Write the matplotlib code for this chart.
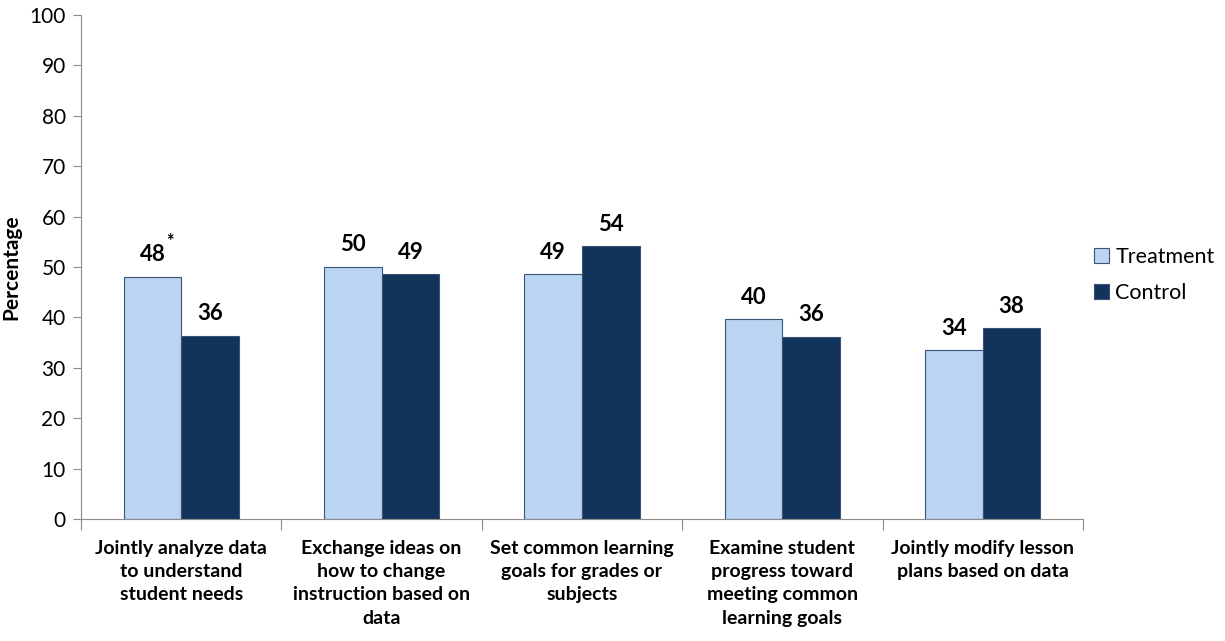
import matplotlib
matplotlib.use("Agg")
import matplotlib.pyplot as plt
import numpy as np

plt.rcParams["font.family"] = ["Lato", "DejaVu Sans"]

categories = [
    "Jointly analyze data\nto understand\nstudent needs",
    "Exchange ideas on\nhow to change\ninstruction based on\ndata",
    "Set common learning\ngoals for grades or\nsubjects",
    "Examine student\nprogress toward\nmeeting common\nlearning goals",
    "Jointly modify lesson\nplans based on data",
]
treatment = [48.1, 50.1, 48.6, 39.7, 33.5]
control = [36.4, 48.6, 54.2, 36.2, 37.9]
treatment_labels = ["48", "50", "49", "40", "34"]
control_labels = ["36", "49", "54", "36", "38"]
significant = [True, False, False, False, False]

light = "#BAD4F1"
dark = "#12335A"
edge = "#3A5478"
axis_gray = "#8C8C8C"

fig = plt.figure(figsize=(12.25, 6.41), dpi=100)
ax = fig.add_axes([0.0661, 0.1903, 0.8180, 0.7863])

x = np.arange(len(categories))
w = 0.287
b1 = ax.bar(x - w / 2, treatment, w, color=light, edgecolor=edge, linewidth=0.8, label="Treatment")
b2 = ax.bar(x + w / 2, control, w, color=dark, edgecolor=edge, linewidth=0.8, label="Control")

for rect, lbl, sig in zip(b1, treatment_labels, significant):
    cx = rect.get_x() + rect.get_width() / 2
    ax.annotate(lbl, (cx, rect.get_height()), xytext=(0, 8), textcoords="offset points",
                ha="center", va="bottom", fontsize=16, fontweight="bold")
    if sig:
        ax.annotate("*", (cx, rect.get_height()), xytext=(10, 19), textcoords="offset points",
                    ha="left", va="bottom", fontsize=13, fontweight="bold")
for rect, lbl in zip(b2, control_labels):
    cx = rect.get_x() + rect.get_width() / 2
    ax.annotate(lbl, (cx, rect.get_height()), xytext=(0, 8), textcoords="offset points",
                ha="center", va="bottom", fontsize=16, fontweight="bold")

ax.set_xlim(-0.5, len(categories) - 0.5)
ax.set_ylim(0, 100)
ax.set_yticks(range(0, 101, 10))
ax.tick_params(axis="y", labelsize=15, length=6, color=axis_gray, direction="out", pad=5)

# ticks at category boundaries, labels centred under each group
ax.set_xticks(np.arange(-0.5, len(categories), 1.0))
ax.set_xticklabels([])
ax.tick_params(axis="x", length=8, color=axis_gray, direction="out")
for xi, cat in zip(x, categories):
    ax.annotate(cat, (xi, 0), xycoords=ax.get_xaxis_transform(), xytext=(0, -15),
                textcoords="offset points", ha="center", va="top", fontsize=14,
                fontweight="bold", linespacing=1.45, annotation_clip=False)

for s in ["top", "right"]:
    ax.spines[s].set_visible(False)
for s in ["left", "bottom"]:
    ax.spines[s].set_color(axis_gray)

ax.set_ylabel("Percentage", fontsize=15, fontweight="bold", labelpad=6)

fig.legend(handles=[b1, b2], loc="upper left", bbox_to_anchor=(0.877, 0.645), frameon=False,
           fontsize=15.5, handlelength=0.7, handleheight=0.7, handletextpad=0.3, labelspacing=0.75)

fig.savefig("out.png", dpi=100)
